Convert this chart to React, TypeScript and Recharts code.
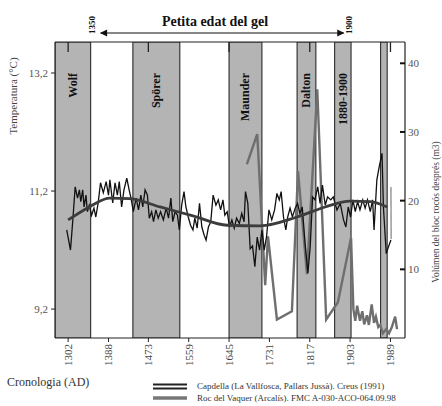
import React from 'react'
import { ComposedChart, Line, XAxis, YAxis, ReferenceArea } from 'recharts'

const FONT = '"Liberation Serif", "Times New Roman", serif'
const W = 442
const H = 406
const PLOT = { left: 55, right: 405, top: 42, bottom: 338 }

const YEAR_DOMAIN: [number, number] = [1274, 2020]
const TEMP_DOMAIN: [number, number] = [8.71, 13.725]
const VOL_DOMAIN: [number, number] = [0, 43.1]

const YEAR_TICKS = [1302, 1388, 1473, 1559, 1645, 1731, 1817, 1903, 1989]
const TOP_TICKS = [1302, 1473, 1645, 1817, 1989]
const TEMP_TICKS = [9.2, 11.2, 13.2]
const VOL_TICKS = [10, 20, 30, 40]

// solar minima bands (years)
const BANDS = [
  { name: 'Wolf', from: 1274, to: 1350 },
  { name: 'Spörer', from: 1440, to: 1540 },
  { name: 'Maunder', from: 1645, to: 1715 },
  { name: 'Dalton', from: 1790, to: 1830 },
  { name: '1880-1900', from: 1870, to: 1905 },
  { name: '', from: 1968, to: 1982 },
]

// Capdella temperature reconstruction [year, °C]
const capdella: [number, number][] = [
  [1299, 10.54], [1307, 10.2], [1312, 10.71], [1317, 11.27], [1322, 11.08], [1326, 11.22],
  [1329, 11.02], [1333, 11.22], [1336, 10.93], [1340, 11.13], [1343, 10.85], [1347, 10.96],
  [1352, 10.79], [1357, 10.91], [1361, 10.76], [1366, 11.0], [1371, 11.34], [1377, 11.17],
  [1383, 11.36], [1388, 11.13], [1391, 11.39], [1397, 11.0], [1402, 11.34], [1407, 11.13],
  [1411, 11.36], [1416, 10.93], [1421, 11.22], [1427, 11.42], [1432, 11.22], [1436, 11.08],
  [1441, 10.85], [1447, 11.08], [1452, 10.88], [1457, 11.13], [1461, 10.93], [1466, 11.22],
  [1471, 11.13], [1475, 10.74], [1480, 10.85], [1484, 10.68], [1489, 10.88], [1494, 10.74],
  [1499, 10.85], [1505, 10.71], [1511, 10.91], [1516, 10.74], [1521, 11.08], [1525, 10.68],
  [1530, 10.85], [1535, 10.79], [1539, 10.54], [1544, 10.96], [1549, 11.19], [1553, 10.93],
  [1558, 10.76], [1563, 10.62], [1568, 10.54], [1572, 10.74], [1577, 10.57], [1582, 10.99],
  [1587, 10.59], [1592, 10.45], [1596, 10.37], [1601, 10.59], [1606, 10.68], [1611, 11.13],
  [1617, 10.96], [1622, 11.05], [1627, 10.88], [1632, 11.05], [1636, 10.79], [1641, 10.85],
  [1646, 10.59], [1651, 10.71], [1656, 10.57], [1661, 10.74], [1667, 10.65], [1672, 10.82],
  [1677, 10.68], [1680, 11.19], [1685, 10.99], [1690, 10.22], [1695, 10.27], [1700, 9.92],
  [1705, 10.42], [1710, 10.2], [1715, 10.54], [1720, 10.2], [1725, 10.43], [1730, 10.88],
  [1736, 10.71], [1742, 10.88], [1747, 11.16], [1752, 11.05], [1756, 11.19], [1761, 10.76],
  [1766, 10.54], [1770, 10.76], [1775, 10.91], [1780, 10.76], [1786, 10.91], [1791, 10.99],
  [1796, 10.82], [1801, 10.93], [1807, 10.31], [1813, 9.81], [1818, 10.26], [1823, 11.1],
  [1828, 11.05], [1834, 11.27], [1839, 10.99], [1844, 11.3], [1850, 10.96], [1855, 11.1],
  [1862, 11.05], [1867, 11.1], [1875, 10.88], [1882, 10.99], [1889, 10.71], [1894, 10.59],
  [1899, 10.93], [1904, 10.76], [1909, 11.05], [1914, 10.85], [1919, 11.02], [1924, 10.88],
  [1930, 11.05], [1935, 10.91], [1940, 11.05], [1946, 10.85], [1951, 11.05], [1954, 10.54],
  [1960, 11.39], [1965, 11.61], [1971, 11.84], [1974, 10.93], [1980, 10.14], [1985, 10.26],
  [1990, 10.37],
]

// smoothed trend of the Capdella series
const capdellaTrend: [number, number][] = [
  [1302, 10.71], [1349, 10.94], [1391, 11.08], [1434, 11.07], [1498, 10.93], [1568, 10.78],
  [1641, 10.62], [1711, 10.61], [1790, 10.76], [1850, 10.93], [1903, 11.03], [1946, 11.02],
  [1982, 10.93],
]

// Roc del Vaquer block volume [year, m3]
const vaquer: [number, number][] = [
  [1683, 25.3], [1705, 29.7], [1722, 7.7], [1728, 14.8], [1747, 2.7], [1779, 3.9],
  [1792, 24.3], [1811, 9.3], [1833, 36.2], [1852, 2.7], [1877, 5.2], [1905, 14.6],
  [1910, 4.2], [1914, 2.5], [1918, 4.7], [1924, 2.5], [1929, 3.9], [1933, 2.0],
  [1939, 3.3], [1943, 1.9], [1949, 4.9], [1954, 2.2], [1958, 3.1], [1963, 1.6],
  [1967, 1.9], [1973, 0.7], [1980, 1.3], [1986, 0.7], [1992, 1.6], [1999, 3.1], [2003, 1.3],
]
const vaquerSpike: [number, number][] = [[1990, 22], [1990.5, 14.4]]

const toRows = (pts: [number, number][]) => pts.map(([year, v]) => ({ year, v }))

const xPx = (yr: number) =>
  PLOT.left + ((yr - YEAR_DOMAIN[0]) / (YEAR_DOMAIN[1] - YEAR_DOMAIN[0])) * (PLOT.right - PLOT.left)

function BandLabel(props: any) {
  const { viewBox, text } = props
  if (!viewBox || !text) return null
  const cx = viewBox.x + viewBox.width / 2
  return (
    <text transform={`translate(${cx},${PLOT.top + 31}) rotate(-90)`} textAnchor="end"
      dominantBaseline="central" fontFamily={FONT} fontWeight="bold" fontSize={12} fill="#111">
      {text}
    </text>
  )
}

const BottomTick = (p: any) => (
  <text transform={`translate(${p.x},${p.y}) rotate(-90)`} textAnchor="end" dominantBaseline="central"
    fontSize={11} fontFamily={FONT} fill="#444">{p.payload.value}</text>
)

const TopTick = (p: any) => (
  <line x1={p.x} x2={p.x} y1={PLOT.top} y2={PLOT.top + 10} stroke="#222" strokeWidth={1.3} />
)

const VolTick = (p: any) => (
  <g>
    <line x1={PLOT.right - 5} x2={PLOT.right} y1={p.y} y2={p.y} stroke="#111" strokeWidth={2} />
    <text x={PLOT.right + 3} y={p.y} dominantBaseline="central" fontSize={11} fontFamily={FONT} fill="#555">
      {p.payload.value}
    </text>
  </g>
)

export default function App() {
  return (
    <div style={{ position: 'absolute', left: 0, top: 0, width: W, height: H, background: '#fff' }}>
      <ComposedChart width={W} height={H} margin={{ top: 0, right: 0, bottom: 0, left: 0 }}>
        <XAxis dataKey="year" type="number" domain={YEAR_DOMAIN} allowDataOverflow ticks={YEAR_TICKS}
          interval={0} height={H - PLOT.bottom} tickSize={4} tickMargin={2}
          tickLine={{ stroke: '#222' }} axisLine={{ stroke: '#222', strokeWidth: 1.2 }} tick={<BottomTick />} />
        <XAxis xAxisId="top" orientation="top" dataKey="year" type="number" domain={YEAR_DOMAIN}
          allowDataOverflow ticks={TOP_TICKS} interval={0} height={PLOT.top} tickSize={0} tickMargin={0}
          tickLine={false} axisLine={{ stroke: '#222', strokeWidth: 1.2 }} tick={<TopTick />} />
        <YAxis type="number" domain={TEMP_DOMAIN} allowDataOverflow ticks={TEMP_TICKS} width={PLOT.left}
          tickSize={4} tickMargin={3} tickLine={{ stroke: '#222' }} axisLine={{ stroke: '#222', strokeWidth: 1.2 }}
          tickFormatter={(v: number) => v.toFixed(1).replace('.', ',')}
          tick={{ fontSize: 11, fontFamily: FONT, fill: '#555' }} />
        <YAxis yAxisId="vol" orientation="right" type="number" domain={VOL_DOMAIN} allowDataOverflow
          ticks={VOL_TICKS} width={W - PLOT.right} tickSize={0} tickMargin={3} tickLine={false}
          axisLine={{ stroke: '#222', strokeWidth: 1.2 }} tick={<VolTick />} />

        {BANDS.map((b) => (
          <ReferenceArea key={b.from} x1={b.from} x2={b.to} fill="#b4b4b4" fillOpacity={1}
            stroke="#2a2a2a" strokeWidth={1.1} ifOverflow="hidden" label={<BandLabel text={b.name} />} />
        ))}

        <Line data={toRows(vaquer)} yAxisId="vol" dataKey="v" type="linear" stroke="#6f6f6f"
          strokeWidth={2.4} dot={false} isAnimationActive={false} />
        <Line data={toRows(vaquerSpike)} yAxisId="vol" dataKey="v" type="linear" stroke="#a0a0a0"
          strokeWidth={1.6} dot={false} isAnimationActive={false} />
        <Line data={toRows(capdella)} dataKey="v" type="linear" stroke="#111" strokeWidth={1.3}
          dot={false} isAnimationActive={false} />
        <Line data={toRows(capdellaTrend)} dataKey="v" type="monotone" stroke="#3c3c3c" strokeWidth={2.8}
          dot={false} isAnimationActive={false} />
      </ComposedChart>

      <svg width={W} height={H} style={{ position: 'absolute', left: 0, top: 0, pointerEvents: 'none' }}
        fontFamily={FONT}>
        <defs>
          <marker id="arr" viewBox="0 0 10 10" refX="9" refY="5" markerWidth="7" markerHeight="6"
            orient="auto-start-reverse">
            <path d="M0,0 L10,5 L0,10 z" fill="#111" />
          </marker>
        </defs>
        <text x={215} y={26} textAnchor="middle" fontWeight="bold" fontSize={14} fill="#111">
          Petita edat del gel
        </text>
        <line x1={xPx(1350) + 10} x2={xPx(1900) - 5} y1={33} y2={33} stroke="#111" strokeWidth={1.2}
          markerStart="url(#arr)" markerEnd="url(#arr)" />
        <text transform={`translate(${xPx(1350) + 1},34) rotate(-90)`} dominantBaseline="central"
          fontSize={9} fontWeight="bold" fill="#111">1350</text>
        <text transform={`translate(${xPx(1900)},34) rotate(-90)`} dominantBaseline="central"
          fontSize={9} fontWeight="bold" fill="#111">1900</text>

        <text transform="translate(13,96) rotate(-90)" textAnchor="middle" dominantBaseline="central"
          fontSize={11} fill="#444">Temperatura (°C)</text>
        <text transform="translate(436,212) rotate(-90)" textAnchor="middle" dominantBaseline="central"
          fontSize={9.5} fill="#444">Volúmen del bloc rocós després (m3)</text>

        <text x={7} y={382} dominantBaseline="central" fontSize={12} fill="#333">Cronologia (AD)</text>

        <line x1={153} x2={187} y1={384.5} y2={384.5} stroke="#222" strokeWidth={2} />
        <line x1={153} x2={187} y1={388.5} y2={388.5} stroke="#222" strokeWidth={2} />
        <text x={197} y={386} dominantBaseline="central" fontSize={9} fill="#333">
          Capdella (La Vallfosca, Pallars Jussà). Creus (1991)
        </text>
        <line x1={153} x2={187} y1={398} y2={398} stroke="#777" strokeWidth={3.5} />
        <text x={197} y={398} dominantBaseline="central" fontSize={9} fill="#333">
          Roc del Vaquer (Arcalís). FMC A-030-ACO-064.09.98
        </text>
      </svg>
    </div>
  )
}
